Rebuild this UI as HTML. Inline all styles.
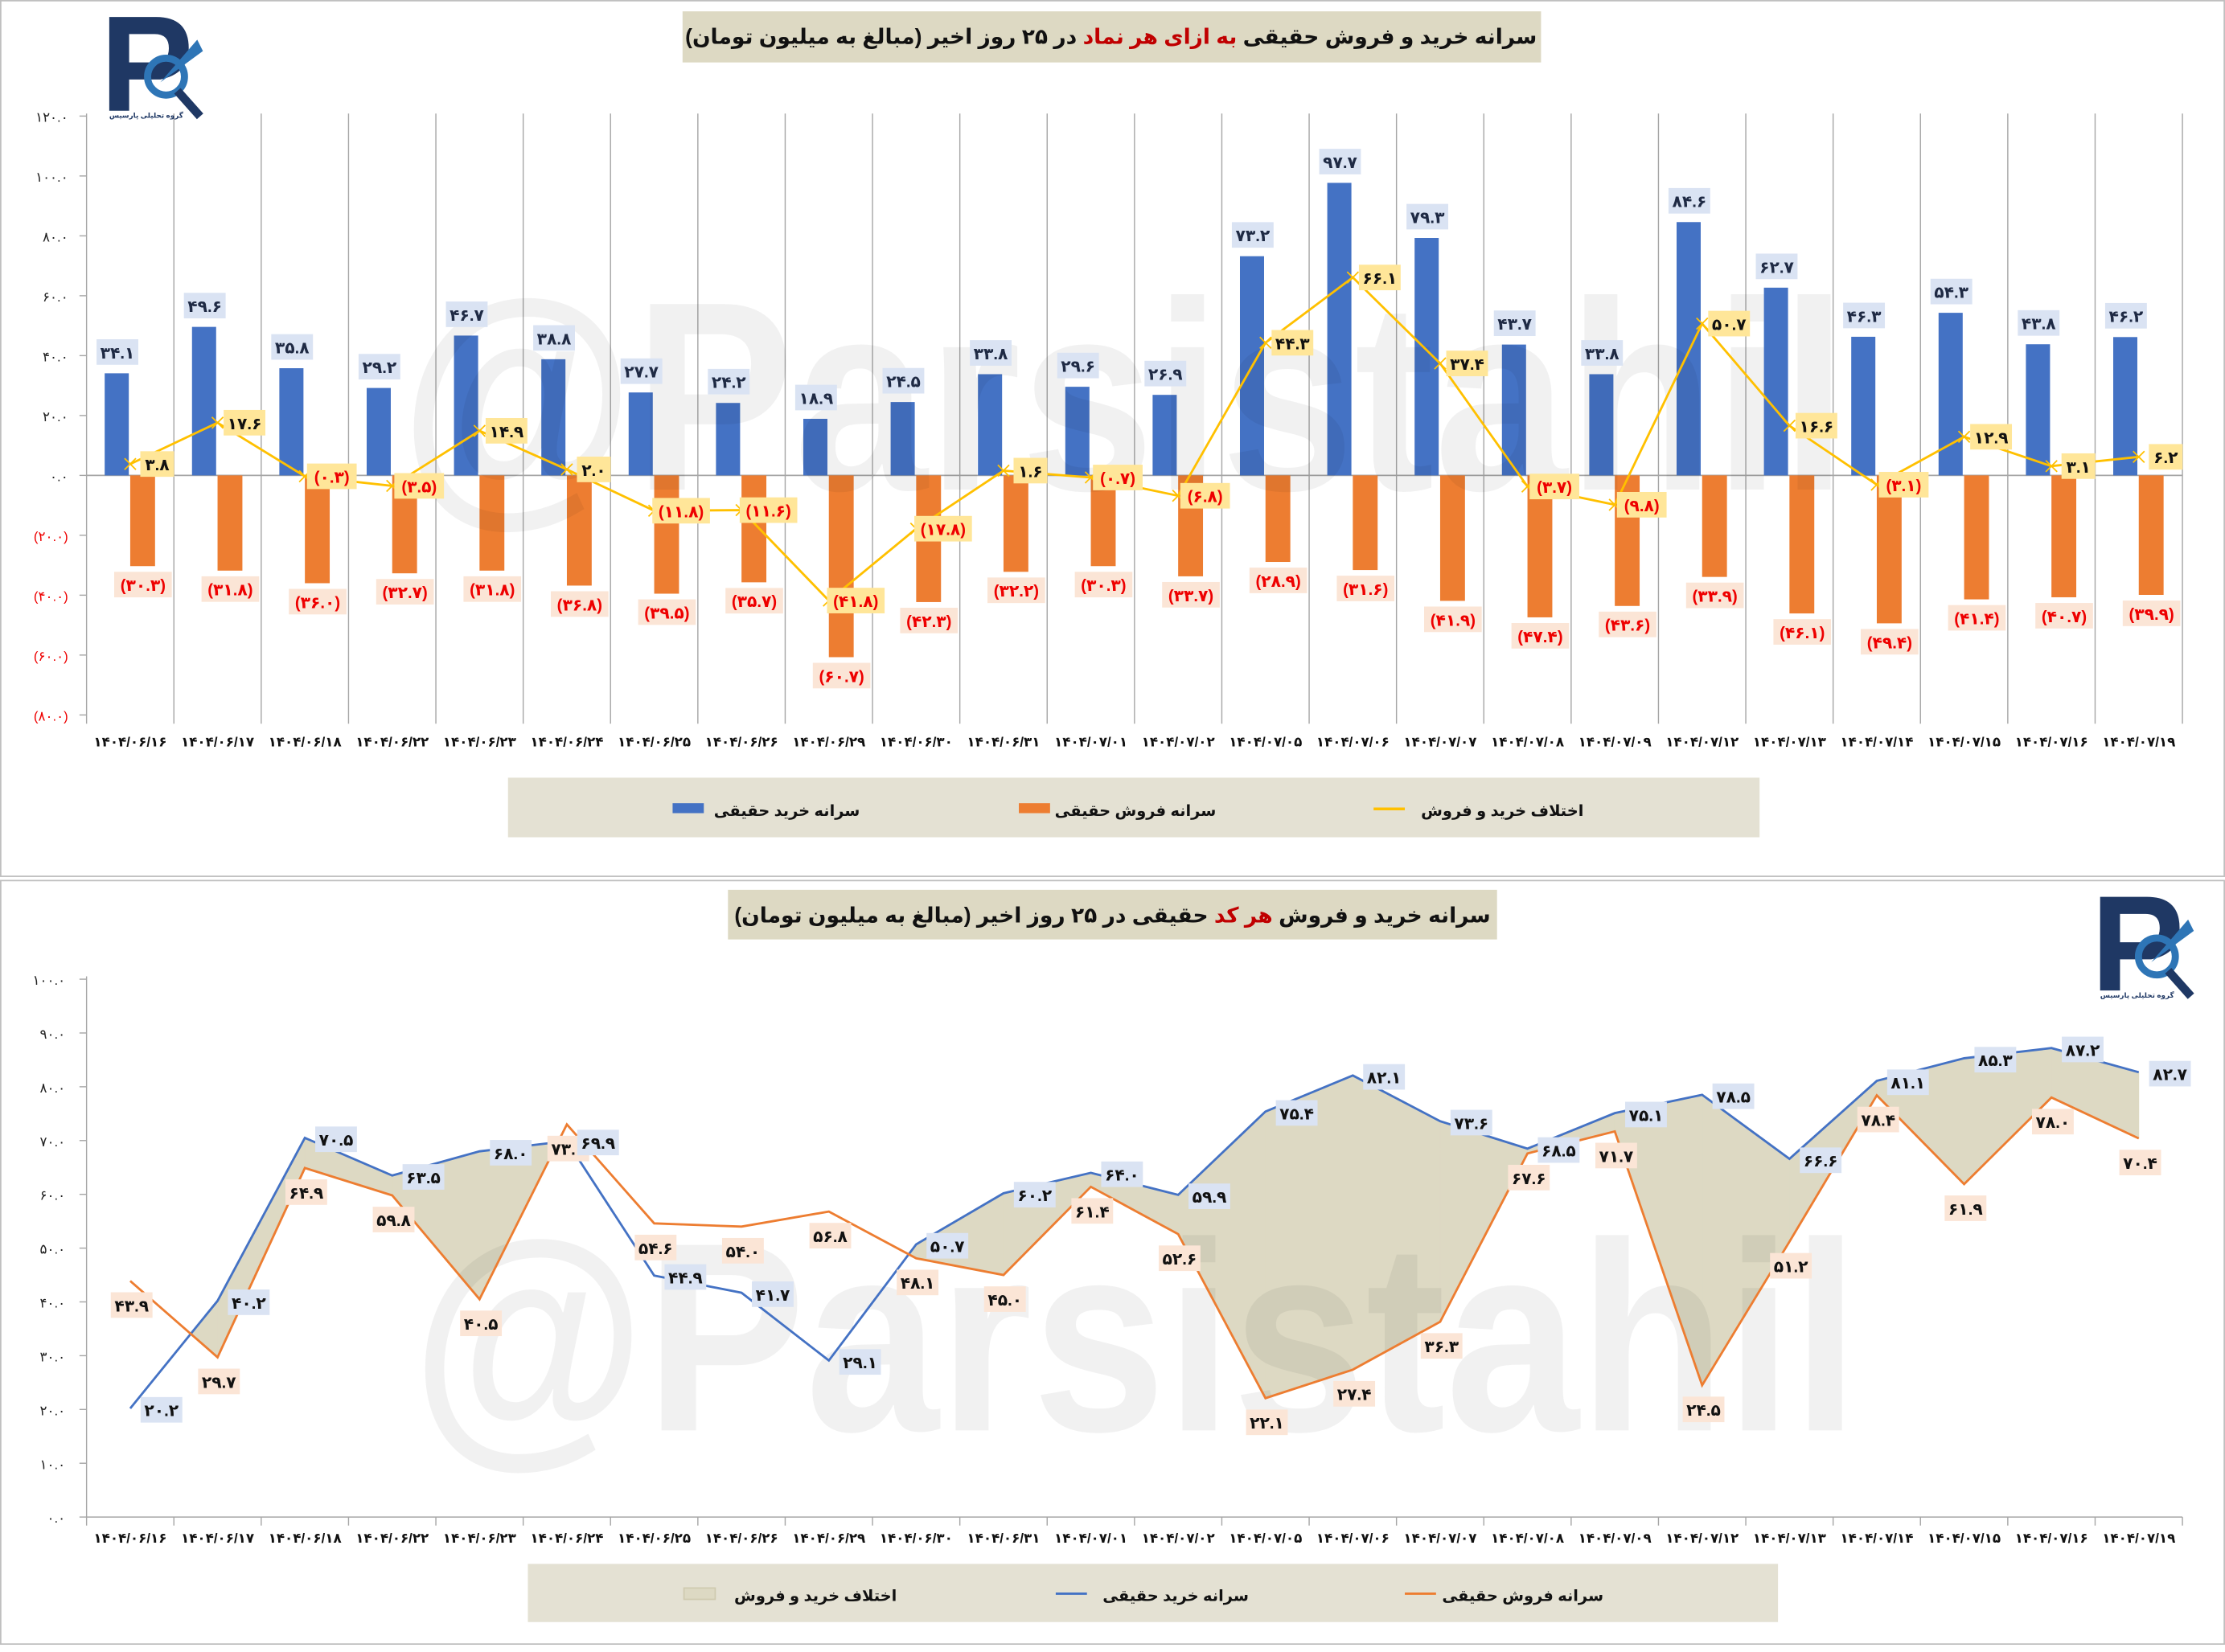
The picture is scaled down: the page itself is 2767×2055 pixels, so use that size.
<!DOCTYPE html>
<html><head><meta charset="utf-8">
<style>
html,body{margin:0;padding:0;background:#fff;width:2767px;height:2046px;overflow:hidden}
#c{position:absolute;left:0;top:0;width:1568px;height:1159px;transform:scale(1.76467,1.76531);transform-origin:0 0}
text{font-family:"Liberation Sans","DejaVu Sans",sans-serif}
</style></head><body>
<div id="c">
<svg id="s" width="1568" height="1159" viewBox="0 0 1568 1159" xmlns="http://www.w3.org/2000/svg">
<rect x="0.5" y="0.5" width="1567" height="617" fill="#fff" stroke="#bfbfbf"/>
<rect x="0.5" y="620.5" width="1567" height="538" fill="#fff" stroke="#bfbfbf"/>
<g id="top"></g>
<g id="bot"></g>
<rect x="481" y="8" width="605" height="36" fill="#ddd9c3"/>
<text x="783" y="31" text-anchor="middle" direction="rtl" font-size="15" font-weight="bold" fill="#111">سرانه خرید و فروش حقیقی <tspan fill="#c00000">به ازای هر نماد</tspan> در ۲۵ روز اخیر (مبالغ به میلیون تومان)</text>
<rect x="513" y="627" width="542" height="35" fill="#ddd9c3"/>
<text x="784" y="650" text-anchor="middle" direction="rtl" font-size="15" font-weight="bold" fill="#111">سرانه خرید و فروش <tspan fill="#c00000">هر کد</tspan> حقیقی در ۲۵ روز اخیر (مبالغ به میلیون تومان)</text>
<g id="logo1" transform="translate(75,12)">
<path d="M2 0 H35 Q58 0 58 22 Q58 40 38 44 H16 V66 H2 Z M16 12 V32 H34 Q44 32 44 22 Q44 12 34 12 Z" fill="#1f3864"/>
<circle cx="42" cy="42" r="13" fill="none" stroke="#2e75b6" stroke-width="5"/>
<path d="M50 52 L66 70" stroke="#1f3864" stroke-width="6"/>
<path d="M38 46 L64 16 L68 24 Z" fill="#2e75b6"/>
<text x="2" y="71" font-size="5" fill="#1f3864" font-weight="bold">گروه تحلیلی پارسیس</text>
</g>
<use href="#logo1" transform="translate(1403,620)"/>
</svg>
</div>
<script>
const fa=s=>String(s).replace(/\d/g,d=>'۰۱۲۳۴۵۶۷۸۹'[d]);
const NS='http://www.w3.org/2000/svg';
function el(p,t,a,txt){const e=document.createElementNS(NS,t);for(const k in a)e.setAttribute(k,a[k]);if(txt!==undefined)e.textContent=txt;p.appendChild(e);return e;}
const dates=['06/16','06/17','06/18','06/22','06/23','06/24','06/25','06/26','06/29','06/30','06/31','07/01','07/02','07/05','07/06','07/07','07/08','07/09','07/12','07/13','07/14','07/15','07/16','07/19'].map(d=>fa('1404/'+d));
const buy=[34.1,49.6,35.8,29.2,46.7,38.8,27.7,24.2,18.9,24.5,33.8,29.6,26.9,73.2,97.7,79.3,43.7,33.8,84.6,62.7,46.3,54.3,43.8,46.2];
const sell=[30.3,31.8,36.0,32.7,31.8,36.8,39.5,35.7,60.7,42.3,32.2,30.3,33.7,28.9,31.6,41.9,47.4,43.6,33.9,46.1,49.4,41.4,40.7,39.9];
const diff=[3.8,17.6,-0.3,-3.5,14.9,2.0,-11.8,-11.6,-41.8,-17.8,1.6,-0.7,-6.8,44.3,66.1,37.4,-3.7,-9.8,50.7,16.6,-3.1,12.9,3.1,6.2];
const buy2=[20.2,40.2,70.5,63.5,68.0,69.9,44.9,41.7,29.1,50.7,60.2,64.0,59.9,75.4,82.1,73.6,68.5,75.1,78.5,66.6,81.1,85.3,87.2,82.7];
const sell2=[43.9,29.7,64.9,59.8,40.5,73.0,54.6,54.0,56.8,48.1,45.0,61.4,52.6,22.1,27.4,36.3,67.6,71.7,24.5,51.2,78.4,61.9,78.0,70.4];
const X0=61,X1=1538,N=24,W=(X1-X0)/N,cx=i=>X0+W*(i+0.5);
function lbl(g,x,y,t,bg,col,fs){const w=t.length*5.6+7;el(g,'rect',{x:x-w/2,y:y-9,width:w,height:18,fill:bg});el(g,'text',{x:x,y:y+4.5,'text-anchor':'middle','font-size':fs||11.5,'font-weight':'bold',fill:col},t);}
function wm(g,x,y){el(g,'text',{x:x,y:y,'font-size':190,'font-weight':'bold',fill:'#000','fill-opacity':0.055,textLength:1020,lengthAdjust:'spacingAndGlyphs'},'@Parsistahil');}
// TOP
const T=document.getElementById('top');
const y0=335,k=2.11,Y=v=>y0-v*k;
for(let i=0;i<=N;i++){const x=X0+W*i;el(T,'line',{x1:x,y1:80,x2:x,y2:510,stroke:'#a6a6a6','stroke-width':0.8});}
for(let v=120;v>=-80;v-=20){const y=Y(v);el(T,'line',{x1:56,y1:y,x2:61,y2:y,stroke:'#a6a6a6','stroke-width':0.8});
 const t=v<0?'('+fa(Math.abs(v))+'.۰)':fa(v)+'.۰';el(T,'text',{x:48,y:y+4,'text-anchor':'end','font-size':9.5,fill:v<0?'#e00':'#222'},t);}
el(T,'line',{x1:61,y1:y0,x2:1538,y2:y0,stroke:'#a6a6a6','stroke-width':1});
for(let i=0;i<N;i++){const c=cx(i);
 el(T,'rect',{x:c-18,y:Y(buy[i]),width:17,height:buy[i]*k,fill:'#4472c4'});
 el(T,'rect',{x:c,y:y0,width:17.5,height:sell[i]*k,fill:'#ed7d31'});
 el(T,'text',{x:c,y:526,'text-anchor':'middle','font-size':9.5,'font-weight':'bold',fill:'#111'},dates[i]);}
wm(T,282,345);
let pts=diff.map((d,i)=>cx(i)+','+Y(d)).join(' ');
el(T,'polyline',{points:pts,fill:'none',stroke:'#ffc000','stroke-width':1.6});
for(let i=0;i<N;i++){const c=cx(i),y=Y(diff[i]);
 el(T,'path',{d:`M${c-4} ${y-4}L${c+4} ${y+4}M${c-4} ${y+4}L${c+4} ${y-4}`,stroke:'#ffc000','stroke-width':1});
 lbl(T,c-9,Y(buy[i])-15,fa(buy[i].toFixed(1)),'#dae3f3','#1f2a44');
 lbl(T,c+9,Y(-sell[i])+13,'('+fa(sell[i].toFixed(1))+')','#fbe5d6','#e00');
 const d=diff[i];lbl(T,c+19,y,d<0?'('+fa(Math.abs(d).toFixed(1))+')':fa(d.toFixed(1)),'#ffe699',d<0?'#e00':'#111');}
el(T,'rect',{x:358,y:548,width:882,height:42,fill:'#e4e1d3'});
el(T,'rect',{x:474,y:566,width:22,height:7,fill:'#4472c4'});
el(T,'text',{x:606,y:575,'text-anchor':'end','font-size':11,'font-weight':'bold',fill:'#111'},'سرانه خرید حقیقی');
el(T,'rect',{x:718,y:566,width:22,height:7,fill:'#ed7d31'});
el(T,'text',{x:857,y:575,'text-anchor':'end','font-size':11,'font-weight':'bold',fill:'#111'},'سرانه فروش حقیقی');
el(T,'line',{x1:968,y1:570,x2:990,y2:570,stroke:'#ffc000','stroke-width':2});
el(T,'text',{x:1116,y:575,'text-anchor':'end','font-size':11,'font-weight':'bold',fill:'#111'},'اختلاف خرید و فروش');
// BOTTOM
const B=document.getElementById('bot');
const b0=1069,bk=3.79,BY=v=>b0-v*bk;
el(B,'line',{x1:61,y1:688,x2:61,y2:1069,stroke:'#a6a6a6','stroke-width':0.8});
el(B,'line',{x1:61,y1:1069,x2:1538,y2:1069,stroke:'#a6a6a6','stroke-width':0.8});
for(let v=100;v>=0;v-=10){const y=BY(v);el(B,'line',{x1:56,y1:y,x2:61,y2:y,stroke:'#a6a6a6','stroke-width':0.8});
 el(B,'text',{x:46,y:y+4,'text-anchor':'end','font-size':9.5,fill:'#222'},fa(v)+'.۰');}
for(let i=0;i<=N;i++){const x=X0+W*i;el(B,'line',{x1:x,y1:1069,x2:x,y2:1075,stroke:'#a6a6a6','stroke-width':0.8});}
for(let i=0;i<N;i++)el(B,'text',{x:cx(i),y:1087,'text-anchor':'middle','font-size':9.5,'font-weight':'bold',fill:'#111'},dates[i]);
for(let i=0;i<N-1;i++){
 const xa=cx(i),xb=cx(i+1),da=buy2[i]-sell2[i],db=buy2[i+1]-sell2[i+1];
 let poly=null;
 if(da>=0&&db>=0)poly=[[xa,buy2[i]],[xb,buy2[i+1]],[xb,sell2[i+1]],[xa,sell2[i]]];
 else if(da>=0||db>=0){const t=da/(da-db),xm=xa+t*(xb-xa),vm=buy2[i]+t*(buy2[i+1]-buy2[i]);
  poly=da>=0?[[xa,buy2[i]],[xm,vm],[xa,sell2[i]]]:[[xm,vm],[xb,buy2[i+1]],[xb,sell2[i+1]]];}
 if(poly)el(B,'polygon',{points:poly.map(p=>p[0]+','+BY(p[1])).join(' '),fill:'#ddd9c3',stroke:'#ddd9c3','stroke-width':0.5});}
wm(B,290,1008);
el(B,'polyline',{points:buy2.map((v,i)=>cx(i)+','+BY(v)).join(' '),fill:'none',stroke:'#4472c4','stroke-width':1.6});
el(B,'polyline',{points:sell2.map((v,i)=>cx(i)+','+BY(v)).join(' '),fill:'none',stroke:'#ed7d31','stroke-width':1.6});
for(let i=0;i<N;i++){const c=cx(i);
 lbl(B,c+1,BY(sell2[i])+17,fa(sell2[i].toFixed(1)),'#fbe5d6','#111');
 lbl(B,c+22,BY(buy2[i])+1,fa(buy2[i].toFixed(1)),'#dae3f3','#111');}
el(B,'rect',{x:372,y:1102,width:881,height:41,fill:'#e4e1d3'});
el(B,'rect',{x:482,y:1119,width:22,height:8,fill:'#ddd9c3',stroke:'#cfcab0'});
el(B,'text',{x:632,y:1128,'text-anchor':'end','font-size':11,'font-weight':'bold',fill:'#111'},'اختلاف خرید و فروش');
el(B,'line',{x1:744,y1:1123,x2:766,y2:1123,stroke:'#4472c4','stroke-width':1.6});
el(B,'text',{x:880,y:1128,'text-anchor':'end','font-size':11,'font-weight':'bold',fill:'#111'},'سرانه خرید حقیقی');
el(B,'line',{x1:990,y1:1123,x2:1012,y2:1123,stroke:'#ed7d31','stroke-width':1.6});
el(B,'text',{x:1130,y:1128,'text-anchor':'end','font-size':11,'font-weight':'bold',fill:'#111'},'سرانه فروش حقیقی');
</script>
</body></html>
